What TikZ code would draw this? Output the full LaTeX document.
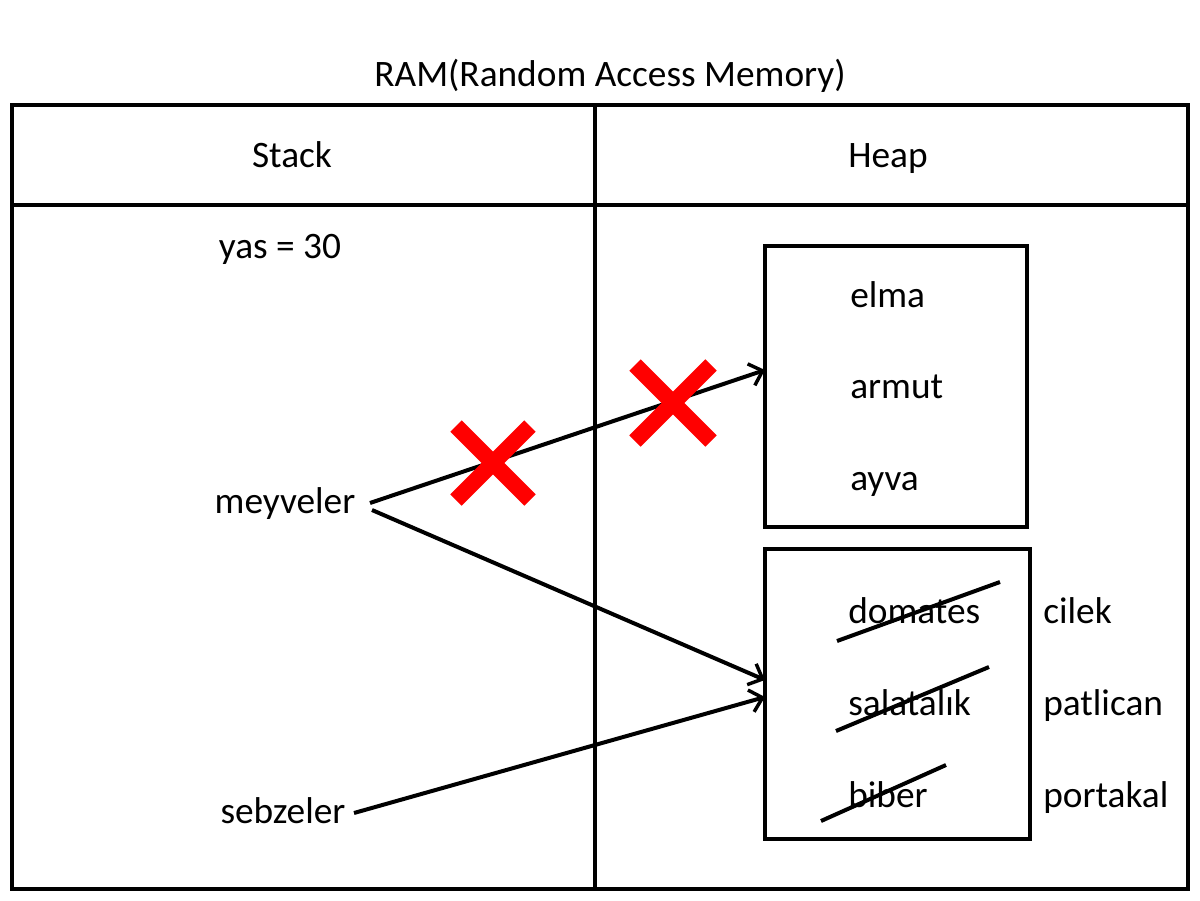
\documentclass[tikz,border=0pt]{standalone}
\usepackage{fontspec}
\setmainfont{Carlito}
\usetikzlibrary{arrows.meta}
\begin{document}
\begin{tikzpicture}[x=0.75pt,y=-0.75pt,
  txt/.style={inner sep=0pt,font=\fontsize{28}{32}\selectfont},
  frame/.style={line width=3pt},
  conn/.style={line width=3pt,-{Straight Barb[length=9pt,width=17pt,line width=2.6pt]}},
  strike/.style={line width=3pt},
  cross/.style={draw=red,line width=12pt}]
\useasboundingbox (0,0) rectangle (1200,900);
% frame
\draw[frame] (12,105) rectangle (1188,889);
\draw[frame] (595,105) -- (595,889);
\draw[frame] (12,205) -- (1188,205);
% heap boxes
\draw[frame] (765,246) rectangle (1027,527);
\draw[frame] (765,549) rectangle (1030,839);
% texts
\node[txt,anchor=base] (title) at (610,86) {RAM(Random Access Memory)};
\node[txt,anchor=base] (stack) at (292,167) {Stack};
\node[txt,anchor=base] (heap) at (888,167) {Heap};
\node[txt,anchor=base] (yas) at (280,258) {yas = 30};
\node[txt,anchor=base] (meyveler) at (285,513) {meyveler};
\node[txt,anchor=base] (sebzeler) at (283,823) {sebzeler};
\node[txt,anchor=base west] (elma) at (850,307) {elma};
\node[txt,anchor=base west] (armut) at (850,398) {armut};
\node[txt,anchor=base west] (ayva) at (850,490) {ayva};
\node[txt,anchor=base west] (domates) at (848,623) {domates};
\node[txt,anchor=base west] (salatalik) at (848,715) {salatalık};
\node[txt,anchor=base west] (biber) at (848,807) {biber};
\node[txt,anchor=base west] (cilek) at (1043,623) {cilek};
\node[txt,anchor=base west] (patlican) at (1043,715) {patlican};
\node[txt,anchor=base west] (portakal) at (1043,807) {portakal};
% connector end points
\coordinate (m1) at (370,503);
\coordinate (m2) at (372,510);
\coordinate (s1) at (354,813);
\coordinate (h1) at (765,370);
\coordinate (h2) at (765,680);
\coordinate (h3) at (765,697);
\draw[conn] (m1) -- (h1);
\draw[conn] (m2) -- (h2);
\draw[conn] (s1) -- (h3);
% strikes
\draw[strike] (837,641) -- (1000,582);
\draw[strike] (836,731) -- (989,667);
\draw[strike] (821,821) -- (946,765);
% red crosses
\draw[cross] (456,426) -- (530,500) (456,500) -- (530,426);
\draw[cross] (635,365) -- (711,441) (635,441) -- (711,365);
\end{tikzpicture}
\end{document}
